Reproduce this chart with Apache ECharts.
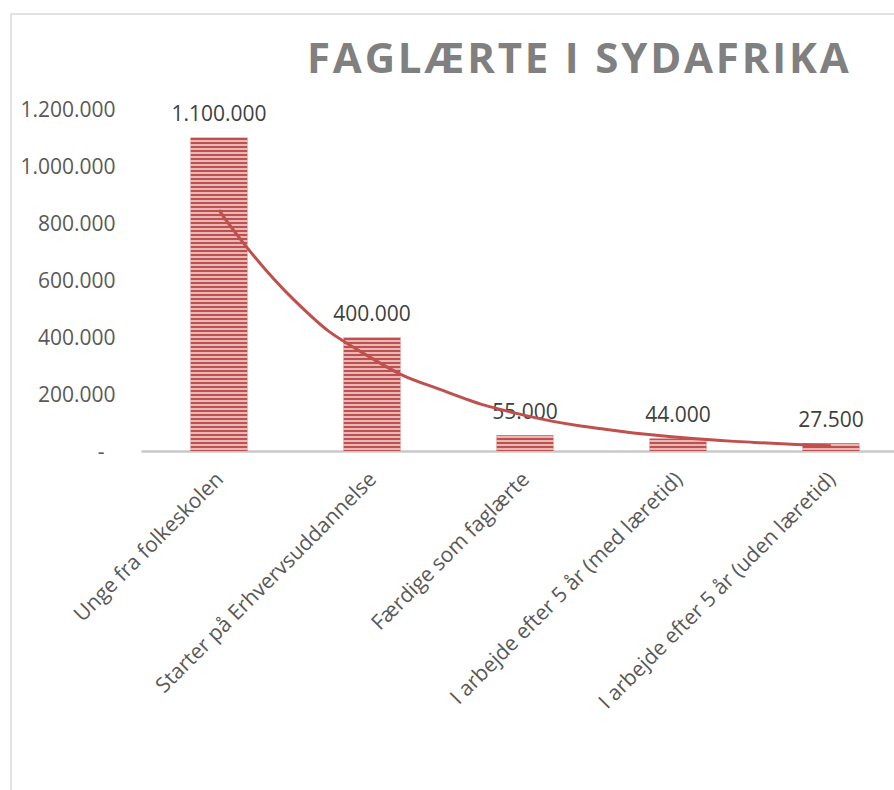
<!DOCTYPE html>
<html>
<head>
<meta charset="utf-8">
<script src="https://cdn.jsdelivr.net/npm/echarts@6/dist/echarts.min.js"></script>
<style>
  html, body { margin: 0; padding: 0; background: #ffffff; overflow: hidden; }
  #chart { width: 930px; height: 790px; }
</style>
</head>
<body>
<div id="chart"></div>
<script>
const titleText = 'FAGLÆRTE I SYDAFRIKA';
const categories = [
  'Unge fra folkeskolen',
  'Starter på Erhvervsuddannelse',
  'Færdige som faglærte',
  'I arbejde efter 5 år (med læretid)',
  'I arbejde efter 5 år (uden læretid)'
];
const values = [1100000, 400000, 55000, 44000, 27500];
// exponential trendline at category positions (1..5) and midpoints
const trendX = [1, 1.5, 2, 2.5, 3, 3.5, 4, 4.5, 5];
const trendValues = [845000, 525000, 325000, 205000, 125000, 78000, 48000, 30000, 18500];
const yTicks = { min: 0, max: 1200000, interval: 200000 };

function fmt(v) {
  return String(Math.round(v)).replace(/\B(?=(\d{3})+(?!\d))/g, '.');
}

const FONT = '"Open Sans", "DejaVu Sans", sans-serif';
const RED = '#C0504D';

const chart = echarts.init(document.getElementById('chart'), null, { renderer: 'svg' });

chart.setOption({
  animation: false,
  backgroundColor: '#ffffff',
  textStyle: { fontFamily: FONT },
  title: {
    text: titleText,
    left: 307,
    top: 35,
    padding: 0,
    textStyle: { fontFamily: FONT, fontSize: 42, fontWeight: 'bold', color: '#808080' }
  },
  graphic: [{
    type: 'rect',
    left: 8.5, top: 11.5,
    shape: { width: 960, height: 820 },
    style: { fill: 'none', stroke: '#D9D9D9', lineWidth: 1.5 },
    silent: true, z: -10
  }],
  grid: { left: 142.5, width: 765, top: 109, bottom: 339, containLabel: false },
  xAxis: [{
    type: 'category',
    data: categories,
    axisLine: { lineStyle: { color: '#C8C8C8', width: 2.5 } },
    axisTick: { show: false },
    axisLabel: { rotate: 45, margin: 24, fontSize: 21, color: '#595959', fontFamily: FONT, interval: 0 }
  }, {
    type: 'value',
    min: 0.5, max: 5.5,
    show: false
  }],
  yAxis: {
    type: 'value',
    min: yTicks.min, max: yTicks.max, interval: yTicks.interval,
    axisLine: { show: false },
    axisTick: { show: false },
    splitLine: { show: false },
    axisLabel: {
      margin: 27,
      fontSize: 21,
      color: '#595959',
      fontFamily: FONT,
      formatter: v => v === 0 ? '{z|-}' : fmt(v),
      rich: { z: { fontSize: 21, color: '#595959', fontFamily: FONT, padding: [0, 11, 0, 0] } }
    }
  },
  series: [{
    type: 'bar',
    data: values,
    barWidth: 57,
    itemStyle: {
      color: RED,
      decal: {
        symbol: 'rect',
        symbolSize: 1,
        dashArrayX: [1, 0],
        dashArrayY: [2, 1.7],
        rotation: 0,
        color: 'rgba(255,255,255,0.6)'
      }
    },
    label: {
      show: true,
      position: 'top',
      distance: 14,
      fontSize: 21,
      color: '#404040',
      fontFamily: FONT,
      formatter: p => fmt(p.value)
    },
    z: 2
  }, {
    type: 'line',
    xAxisIndex: 1,
    data: trendX.map((x, i) => [x, trendValues[i]]),
    smooth: true,
    showSymbol: false,
    lineStyle: { color: RED, width: 3 },
    z: 3
  }]
});

function spaceTitle() {
  document.querySelectorAll('#chart text').forEach(t => {
    if (t.textContent === titleText) t.setAttribute('letter-spacing', '2.8');
  });
}
spaceTitle();
chart.on('finished', spaceTitle);
setTimeout(spaceTitle, 50);
</script>
</body>
</html>
